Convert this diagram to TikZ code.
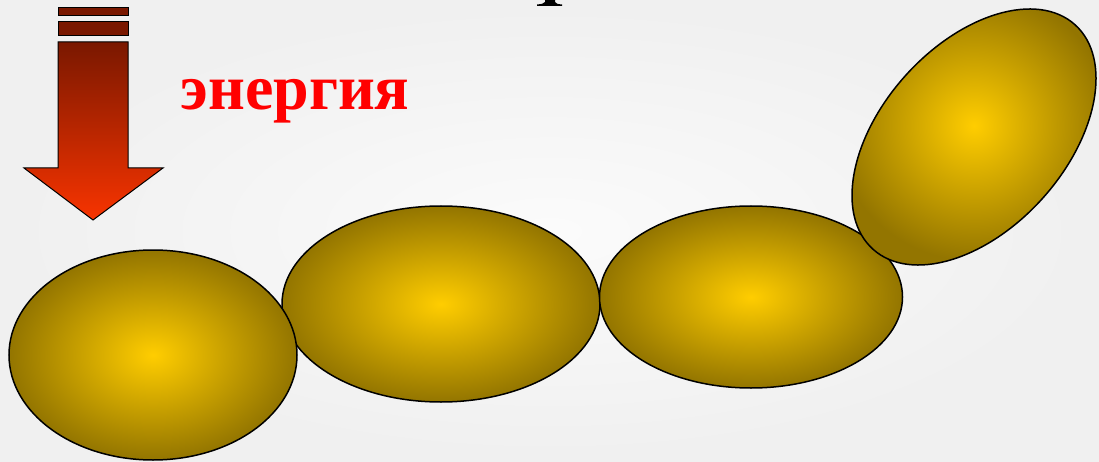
\documentclass[tikz,border=0pt]{standalone}
\usepackage{fontspec}
\setmainfont{Liberation Serif}
\usetikzlibrary{shapes.geometric, positioning}
\definecolor{cellgold}{HTML}{FFCD00}
\definecolor{cellrim}{HTML}{937500}
\definecolor{arrowtop}{HTML}{7A1800}
\definecolor{arrowbot}{HTML}{F83400}

\begin{document}
\begin{tikzpicture}[
  x=1pt, y=-1pt,
  cell/.style  = {ellipse, draw=black, line width=1.5pt, inner sep=0pt,
                  shading=radial, inner color=cellgold, outer color=cellrim},
  bar/.style   = {draw=black, line width=1pt, fill=arrowtop},
  label/.style = {text=red, font=\fontsize{64}{66}\selectfont\bfseries}
]
\useasboundingbox (0,0) rectangle (1099,462);
\shade[inner color=gray!3, outer color=gray!12] (0,0) rectangle (1099,462);

% cut-off letter at the top
\fill[black] (545,0) -- (555,0) -- (555,2) .. controls (556,4) and (558,4) .. (562,4.5)
  -- (562,6) -- (537,6) -- (537,4.5) .. controls (541,4) and (544,4) .. (545,2) -- cycle;

% energy arrow
\draw[bar] (58,8) rectangle (128,16);
\draw[bar] (58,22) rectangle (128,36);
\draw[line width=1pt, top color=arrowtop, bottom color=arrowbot]
  (58,42) -- (128,42) -- (128,168) -- (163,168) -- (93,220) -- (24,168) -- (58,168) -- cycle;
\node[label, anchor=base west] (energy) at (177,110) {энергия};

% chain of cells
\node[cell, minimum width=318pt, minimum height=196pt] (c2) at (441,304) {};
\node[cell, minimum width=303pt, minimum height=182pt] (c3) at (751,297) {};
\node[cell, minimum width=288pt, minimum height=210pt] (c1) at (153,355) {};
\node[cell, minimum width=302pt, minimum height=184pt, rotate=48] (c4) at (974,137) {};
\end{tikzpicture}
\end{document}
